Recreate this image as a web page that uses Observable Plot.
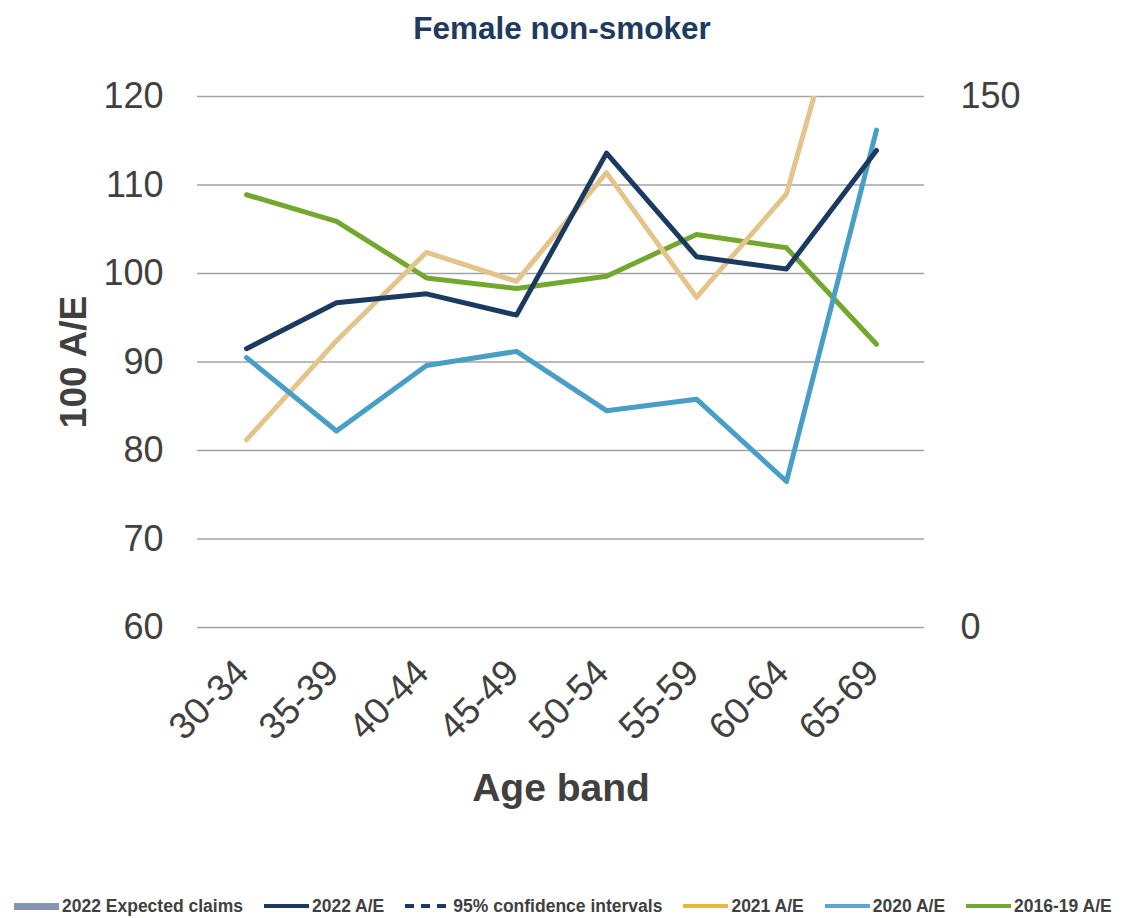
<!DOCTYPE html>
<html>
<head>
<meta charset="utf-8">
<script src="https://cdn.jsdelivr.net/npm/d3@7"></script>
<script src="https://cdn.jsdelivr.net/npm/@observablehq/plot@0.6"></script>
<style>
  html, body { margin: 0; padding: 0; background: #ffffff; }
  body { width: 1124px; height: 918px; font-family: "Liberation Sans", Arial, sans-serif; }
  #title { height: 56px; line-height: 56px; text-align: center; font-weight: bold; font-size: 31.5px; color: #1e3a5f; }
  #chart svg { display: block; }
  #legend { display: flex; align-items: center; gap: 21px; margin: 14px 0 0 14px; height: 24px; font-weight: bold; font-size: 17.5px; color: #404040; }
  .item { display: flex; align-items: center; }
  .item span.label { margin-left: 3px; white-space: nowrap; }
  .sw { width: 45px; }
</style>
</head>
<body>
<div id="title">Female non-smoker</div>
<div id="chart"></div>
<div id="legend"></div>
<script>
// Age bands along the x axis
const ageBands = ["30-34", "35-39", "40-44", "45-49", "50-54", "55-59", "60-64", "65-69"];

// Actual / expected (×100) by age band
const ae2022   = [91.5, 96.7, 97.7, 95.3, 113.6, 101.9, 100.5, 113.9];
const ae2021   = [81.2, 92.4, 102.4, 99.1, 111.4, 97.3, 109.0, 145.0];
const ae2020   = [90.5, 82.2, 89.6, 91.2, 84.5, 85.8, 76.5, 116.2];
const ae201619 = [108.9, 105.9, 99.5, 98.3, 99.7, 104.4, 102.9, 92.0];

// Axis ticks: left A/E axis, right expected-claims axis
const leftTicks = [60, 70, 80, 90, 100, 110, 120];
const rightTicks = [0, 150];

// Legend entries
const legendLabels = ["2022 Expected claims", "2022 A/E", "95% confidence intervals", "2021 A/E", "2020 A/E", "2016-19 A/E"];

const series = [
  {name: "2016-19 A/E", values: ae201619, color: "#72a82d"},
  {name: "2021 A/E", values: ae2021, color: "#e3c48a"},
  {name: "2020 A/E", values: ae2020, color: "#479fc6"},
  {name: "2022 A/E", values: ae2022, color: "#1b3a60"}
];

// Right axis (0–150) shares the plot frame with the left axis (60–120)
const rightToLeft = v => 60 + v * (60 / 150);
const leftToRight = v => Math.round((v - 60) * (150 / 60));

const lineMarks = series.map(s =>
  Plot.line(ageBands.map((a, i) => ({band: a, value: s.values[i]})), {
    x: "band", y: "value", stroke: s.color, strokeWidth: 5, clip: true, strokeLinejoin: "round"
  })
);

const chart = Plot.plot({
  width: 1124,
  height: 824,
  marginLeft: 197,
  marginRight: 200,
  marginTop: 40,
  marginBottom: 253,
  style: {fontFamily: "'Liberation Sans', Arial, sans-serif", color: "#404040", background: "#ffffff"},
  x: {type: "point", domain: ageBands, padding: 0.5, label: null},
  y: {domain: [60, 120], label: null},
  marks: [
    Plot.gridY(leftTicks, {stroke: "#a3a3a3", strokeOpacity: 1, strokeWidth: 1.4}),
    Plot.axisY(leftTicks, {anchor: "left", tickSize: 0, tickPadding: 34, fontSize: 36, label: null}),
    Plot.axisY(rightTicks.map(rightToLeft), {anchor: "right", tickSize: 0, tickPadding: 36, fontSize: 36, label: null, tickFormat: leftToRight, textAnchor: "start"}),
    Plot.axisX(ageBands, {anchor: "bottom", tickSize: 0, tickPadding: 39, dx: -4, tickRotate: -45, fontSize: 37, label: null}),
    Plot.text(["Age band"], {frameAnchor: "bottom", dy: 161, text: d => d, fontWeight: "bold", fontSize: 39, lineAnchor: "middle", fill: "#404040"}),
    Plot.text(["100 A/E"], {frameAnchor: "left", dx: -123, rotate: -90, text: d => d, fontWeight: "bold", fontSize: 37, lineAnchor: "middle", textAnchor: "middle", fill: "#404040"}),
    ...lineMarks
  ]
});
document.getElementById("chart").appendChild(chart);

// Legend below the chart
const legend = d3.select("#legend");
const swatchStyles = {
  "2022 Expected claims": sel => sel.style("height", "7px").style("background", "#8597b0"),
  "2022 A/E": sel => sel.style("height", "3.5px").style("background", "#1b3a60"),
  "95% confidence intervals": sel => sel.style("height", "3.5px").style("background", "repeating-linear-gradient(90deg, #1b3a60 0 9px, transparent 9px 16px)"),
  "2021 A/E": sel => sel.style("height", "3.5px").style("background", "#e9b83a"),
  "2020 A/E": sel => sel.style("height", "3.5px").style("background", "#55a9d2"),
  "2016-19 A/E": sel => sel.style("height", "3.5px").style("background", "#72a82d")
};
legendLabels.forEach(label => {
  const item = legend.append("div").attr("class", "item");
  item.append("div").attr("class", "sw").call(swatchStyles[label]);
  item.append("span").attr("class", "label").text(label);
});
</script>
</body>
</html>
